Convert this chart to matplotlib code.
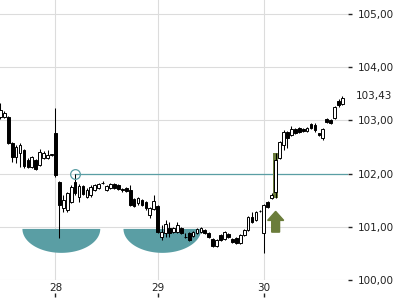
import numpy as np
import matplotlib
matplotlib.use("Agg")
import matplotlib.pyplot as plt
from matplotlib.ticker import FuncFormatter

# OHLC Kerzen (ein Eintrag je Kerze)
opens = [103.06, 103.06, 103.06, 102.57, 102.31, 102.38, 102.44, 102.25, 102.12, 102.25,
         102.16, 102.29, 102.29, 102.35, 102.76, 101.84, 101.35, 101.31, 101.46, 101.84,
         101.56, 101.76, 101.56, 101.59, 101.69, 101.73, 101.82, 101.69, 101.73, 101.80,
         101.78, 101.71, 101.73, 101.69, 101.52, 101.44, 101.50, 101.46, 101.22, 101.33,
         101.39, 100.81, 100.88, 100.98, 100.90, 100.90, 100.98, 100.80, 100.88, 100.83,
         100.88, 100.90, 100.94, 100.88, 100.77, 100.64, 100.84, 100.77, 100.86, 100.77,
         100.79, 100.69, 100.84, 100.94, 101.18, 101.13, 101.29, 100.88, 101.46, 101.54,
         101.65, 102.29, 102.53, 102.78, 102.72, 102.83, 102.85, 102.83, 102.80, 102.93,
         102.91, 102.76, 102.66, 103.02, 103.00, 103.04, 103.36, 103.30]
highs = [103.32, 103.17, 103.08, 102.59, 102.53, 102.57, 102.46, 102.29, 102.33, 102.27,
         102.46, 102.42, 102.44, 102.37, 103.23, 101.86, 101.59, 101.65, 101.78, 102.00,
         101.80, 101.78, 101.73, 101.78, 101.80, 101.82, 101.86, 101.78, 101.82, 101.82,
         101.80, 101.73, 101.75, 101.78, 101.54, 101.56, 101.52, 101.48, 101.37, 101.59,
         101.41, 101.03, 101.13, 101.09, 101.00, 101.09, 101.00, 100.88, 100.90, 100.92,
         100.98, 101.00, 100.96, 100.90, 100.79, 100.77, 100.86, 100.92, 100.88, 100.79,
         100.81, 100.86, 100.96, 101.20, 101.28, 101.30, 101.31, 101.43, 101.48, 101.63,
         102.38, 102.61, 102.81, 102.80, 102.89, 102.85, 102.87, 102.85, 102.87, 102.96,
         102.95, 102.77, 102.85, 103.04, 103.02, 103.27, 103.40, 103.45]
lows = [103.02, 103.04, 102.55, 102.21, 102.20, 102.12, 102.10, 102.10, 102.10, 102.06,
        102.14, 102.27, 102.27, 102.33, 101.93, 100.79, 101.28, 101.28, 101.44, 101.59,
        101.46, 101.59, 101.54, 101.56, 101.67, 101.71, 101.80, 101.67, 101.71, 101.71,
        101.69, 101.65, 101.65, 101.39, 101.37, 101.41, 101.39, 101.31, 101.16, 101.31,
        100.88, 100.75, 100.81, 100.81, 100.88, 100.88, 100.86, 100.79, 100.73, 100.81,
        100.86, 100.88, 100.86, 100.79, 100.62, 100.62, 100.73, 100.75, 100.79, 100.69,
        100.67, 100.67, 100.83, 100.92, 101.07, 101.11, 101.28, 100.51, 101.35, 101.52,
        101.54, 102.27, 102.44, 102.48, 102.70, 102.74, 102.76, 102.78, 102.78, 102.83,
        102.79, 102.70, 102.64, 102.96, 102.93, 103.02, 103.26, 103.28]
closes = [103.19, 103.13, 102.57, 102.31, 102.50, 102.53, 102.14, 102.12, 102.31, 102.08,
          102.40, 102.38, 102.35, 102.35, 101.97, 101.41, 101.50, 101.63, 101.74, 101.63,
          101.76, 101.61, 101.69, 101.74, 101.78, 101.80, 101.82, 101.76, 101.80, 101.73,
          101.71, 101.70, 101.67, 101.41, 101.39, 101.54, 101.41, 101.35, 101.35, 101.48,
          100.90, 100.90, 101.05, 100.88, 100.98, 101.03, 100.88, 100.80, 100.75, 100.90,
          100.96, 100.98, 100.88, 100.81, 100.64, 100.75, 100.75, 100.90, 100.81, 100.71,
          100.69, 100.84, 100.94, 101.18, 101.09, 101.28, 101.30, 101.41, 101.37, 101.59,
          102.25, 102.59, 102.78, 102.66, 102.83, 102.76, 102.78, 102.80, 102.85, 102.85,
          102.81, 102.72, 102.83, 102.97, 102.95, 103.25, 103.28, 103.43]

day_pos = [14, 40, 67]            # Kerzenindex des Tageswechsels
day_labels = ["28", "29", "30"]
y_ticks = [100, 101, 102, 103, 104, 105]
last_price = 103.43

level = 102.00                    # horizontale Linie
level_start = 19                  # Kerze mit Kreis
bowl_centers = [15.5, 41.2]       # Schalen (Boden-Muster)
bowl_top = 100.96
signal_idx = 70                   # markierte Kerze + Pfeil
arrow_top = 101.29
arrow_bottom = 100.90

teal = "#5a9ea4"
olive = "#6b7d3b"

o = np.array(opens); h = np.array(highs); l = np.array(lows); c = np.array(closes)
x = np.arange(len(o))

fig = plt.figure(figsize=(4, 3), dpi=100)
ax = fig.add_axes([0, 20 / 300, 348 / 400, 280 / 300])

"""--------------------- Gitter und Achsen ---------------------"""
ax.set_xlim(-0.1, 88.4)
ax.set_ylim(100, 105 + 14 / 53.3)
ax.set_yticks(y_ticks)
ax.set_xticks(day_pos)
ax.set_xticklabels(day_labels)
ax.grid(True, color="#dcdcdc", linewidth=0.8, zorder=0)
ax.set_axisbelow(True)
for s in ax.spines.values():
    s.set_visible(False)
ax.yaxis.tick_right()
ax.yaxis.set_major_formatter(FuncFormatter(lambda v, p: f"{v:.2f}".replace(".", ",")))
ax.tick_params(axis="y", length=3, width=1, pad=4, labelsize=7.5, colors="#222222")
ax.tick_params(axis="x", length=0, pad=2, labelsize=7.5, colors="#222222")

# Tickstriche unter den Datumslabels
sec = ax.secondary_xaxis(-0.047)
sec.set_xticks(day_pos)
sec.set_xticklabels([])
sec.tick_params(length=3, width=1, colors="#222222")
for s in sec.spines.values():
    s.set_visible(False)

ax.annotate(f"{last_price:.2f}".replace(".", ","), xy=(1, last_price),
            xycoords=("axes fraction", "data"), xytext=(5.5, 1), textcoords="offset points",
            va="center", ha="left", fontsize=7.5, color="#222222", annotation_clip=False)

"""--------------------- Schalen ---------------------"""
t = np.linspace(np.pi, 2 * np.pi, 60)
for bc in bowl_centers:
    ax.fill(bc + 9.9 * np.cos(t), bowl_top + 0.45 * np.sin(t),
            color=teal, zorder=1, linewidth=0)

"""--------------------- Linie 102,00 ---------------------"""
ax.plot([level_start, 88.4], [level, level], color=teal, linewidth=0.9, zorder=2)
ax.plot(level_start, level, "o", markersize=7, markerfacecolor="none",
        markeredgecolor=teal, markeredgewidth=0.9, zorder=5)

"""--------------------- Signal ---------------------"""
ax.bar(signal_idx, h[signal_idx] - l[signal_idx], bottom=l[signal_idx], width=1.3,
       color=olive, zorder=2)
ax.arrow(signal_idx, arrow_bottom, 0, arrow_top - arrow_bottom, width=2.0, head_width=4.1,
         head_length=0.17, length_includes_head=True, color=olive, zorder=2)

"""--------------------- Kerzen ---------------------"""
up = c >= o
ax.vlines(x, l, h, color="black", linewidth=0.75, zorder=3)
body = np.maximum(np.abs(c - o), 0.012)
ax.bar(x, body, bottom=np.minimum(o, c), width=0.7,
       color=np.where(up, "white", "black"), edgecolor="black", linewidth=0.7, zorder=4)

plt.savefig("out.png", dpi=100)
